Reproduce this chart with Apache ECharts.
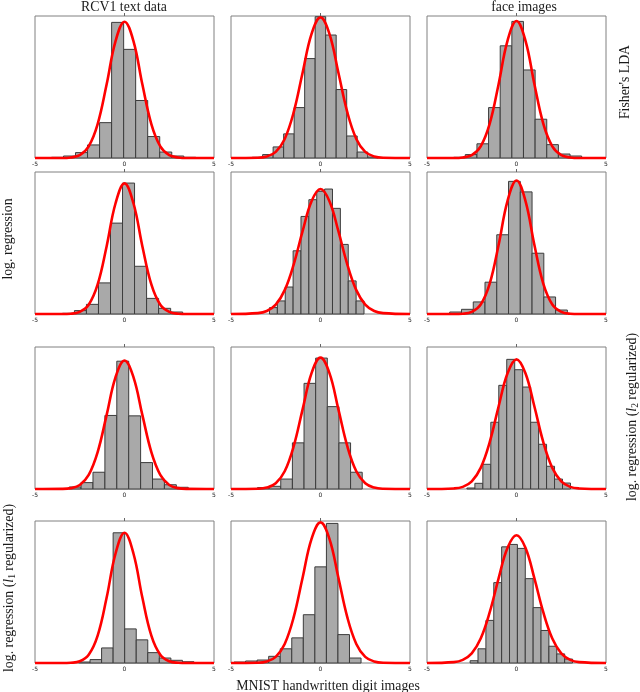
<!DOCTYPE html>
<html>
<head>
<meta charset="utf-8">
<script src="https://cdn.jsdelivr.net/npm/echarts@6/dist/echarts.min.js"></script>
<style>
  html, body { margin: 0; padding: 0; background: #fff; }
  #main { width: 640px; height: 692px; }
</style>
</head>
<body>
<div id="main"></div>
<script>
// x positions where the red curves were read
var curveX = [-5, -3.5, -3, -2.5, -2, -1.5, -1, -0.5, 0, 0.5, 1, 1.5, 2, 2.5, 3, 3.5, 5];

// row 1: Fisher's LDA
var ldaRcvStart = -4.08, ldaRcvWidth = 0.672;
var ldaRcvBars = [0.005, 0.014, 0.038, 0.092, 0.249, 0.955, 0.765, 0.405, 0.151, 0.042, 0.014, 0.005];
var ldaRcvCurve = [0, 0, 0.004, 0.02, 0.082, 0.239, 0.517, 0.823, 0.96, 0.823, 0.517, 0.239, 0.082, 0.02, 0.004, 0, 0];

var ldaMnistStart = -3.82, ldaMnistWidth = 0.587;
var ldaMnistBars = [0.005, 0.024, 0.078, 0.17, 0.355, 0.70, 0.995, 0.866, 0.482, 0.155, 0.042, 0.007];
var ldaMnistCurve = [0, 0.002, 0.011, 0.043, 0.134, 0.321, 0.6, 0.874, 0.99, 0.874, 0.6, 0.321, 0.134, 0.043, 0.011, 0.002, 0];

var ldaFaceStart = -3.51, ldaFaceWidth = 0.65;
var ldaFaceBars = [0.005, 0.024, 0.10, 0.355, 0.79, 0.962, 0.62, 0.273, 0.094, 0.028, 0.014];
var ldaFaceCurve = [0, 0, 0.004, 0.02, 0.082, 0.24, 0.52, 0.827, 0.965, 0.827, 0.52, 0.24, 0.082, 0.02, 0.004, 0, 0];

// row 2: log. regression
var lrRcvStart = -3.47, lrRcvWidth = 0.672;
var lrRcvBars = [0.005, 0.024, 0.068, 0.219, 0.64, 0.922, 0.336, 0.11, 0.04, 0.014];
var lrRcvCurve = [0, 0, 0.002, 0.015, 0.065, 0.208, 0.476, 0.78, 0.92, 0.78, 0.476, 0.208, 0.065, 0.015, 0.002, 0, 0];

var lrMnistStart = -2.85, lrMnistWidth = 0.44;
var lrMnistBars = [0.045, 0.092, 0.19, 0.445, 0.687, 0.805, 0.864, 0.88, 0.744, 0.49, 0.233, 0.092];
var lrMnistCurve = [0, 0.006, 0.021, 0.066, 0.168, 0.348, 0.583, 0.794, 0.88, 0.794, 0.583, 0.348, 0.168, 0.066, 0.021, 0.006, 0];

var lrFaceStart = -3.73, lrFaceWidth = 0.657;
var lrFaceBars = [0.014, 0.033, 0.085, 0.224, 0.558, 0.934, 0.86, 0.428, 0.12, 0.028];
var lrFaceCurve = [0, 0, 0.002, 0.015, 0.067, 0.212, 0.486, 0.797, 0.94, 0.797, 0.486, 0.212, 0.067, 0.015, 0.002, 0, 0];

// row 3: log. regression (l2 regularized)
var l2RcvStart = -3.09, l2RcvWidth = 0.665;
var l2RcvBars = [0.014, 0.045, 0.118, 0.518, 0.9, 0.515, 0.186, 0.07, 0.03, 0.012];
var l2RcvCurve = [0, 0.001, 0.006, 0.028, 0.099, 0.26, 0.52, 0.788, 0.905, 0.788, 0.52, 0.26, 0.099, 0.028, 0.006, 0.001, 0];

var l2MnistStart = -3.52, l2MnistWidth = 0.65;
var l2MnistBars = [0.01, 0.019, 0.07, 0.325, 0.744, 0.922, 0.58, 0.325, 0.118];
var l2MnistCurve = [0, 0.002, 0.01, 0.041, 0.125, 0.3, 0.561, 0.816, 0.925, 0.816, 0.561, 0.3, 0.125, 0.041, 0.01, 0.002, 0];

var l2FaceStart = -2.77, l2FaceWidth = 0.445;
var l2FaceBars = [0.007, 0.04, 0.174, 0.47, 0.73, 0.913, 0.84, 0.718, 0.47, 0.315, 0.16, 0.07, 0.042];
var l2FaceCurve = [0, 0.004, 0.015, 0.054, 0.149, 0.329, 0.581, 0.815, 0.913, 0.815, 0.581, 0.329, 0.149, 0.054, 0.015, 0.004, 0];

// row 4: log. regression (l1 regularized)
var l1RcvStart = -2.57, l1RcvWidth = 0.645;
var l1RcvBars = [0.007, 0.024, 0.106, 0.917, 0.24, 0.163, 0.073, 0.035, 0.019, 0.009];
var l1RcvCurve = [0, 0, 0.002, 0.012, 0.058, 0.193, 0.459, 0.771, 0.917, 0.771, 0.459, 0.193, 0.058, 0.012, 0.002, 0, 0];

var l1MnistStart = -4.83, l1MnistWidth = 0.645;
var l1MnistBars = [0.007, 0.014, 0.021, 0.047, 0.1, 0.177, 0.34, 0.677, 0.983, 0.2, 0.035];
var l1MnistCurve = [0, 0.002, 0.011, 0.043, 0.134, 0.321, 0.6, 0.874, 0.99, 0.874, 0.6, 0.321, 0.134, 0.043, 0.011, 0.002, 0];

var l1FaceStart = -2.59, l1FaceWidth = 0.44;
var l1FaceBars = [0.016, 0.1, 0.3, 0.566, 0.818, 0.835, 0.807, 0.594, 0.39, 0.229, 0.118, 0.064, 0.028];
var l1FaceCurve = [0, 0.006, 0.022, 0.068, 0.172, 0.356, 0.596, 0.812, 0.9, 0.812, 0.596, 0.356, 0.172, 0.068, 0.022, 0.006, 0];

var panels = [
    [ldaRcvStart, ldaRcvWidth, ldaRcvBars, ldaRcvCurve],
    [ldaMnistStart, ldaMnistWidth, ldaMnistBars, ldaMnistCurve],
    [ldaFaceStart, ldaFaceWidth, ldaFaceBars, ldaFaceCurve],
    [lrRcvStart, lrRcvWidth, lrRcvBars, lrRcvCurve],
    [lrMnistStart, lrMnistWidth, lrMnistBars, lrMnistCurve],
    [lrFaceStart, lrFaceWidth, lrFaceBars, lrFaceCurve],
    [l2RcvStart, l2RcvWidth, l2RcvBars, l2RcvCurve],
    [l2MnistStart, l2MnistWidth, l2MnistBars, l2MnistCurve],
    [l2FaceStart, l2FaceWidth, l2FaceBars, l2FaceCurve],
    [l1RcvStart, l1RcvWidth, l1RcvBars, l1RcvCurve],
    [l1MnistStart, l1MnistWidth, l1MnistBars, l1MnistCurve],
    [l1FaceStart, l1FaceWidth, l1FaceBars, l1FaceCurve]
];

var colLeft = [35, 231, 427];
var rowTop = [16, 172, 347, 521];
var font = '"Liberation Serif", serif';

var myChart = echarts.init(document.getElementById('main'));
var grids = [], xAxes = [], yAxes = [], series = [];

function drawBin(params, api) {
    var p0 = api.coord([api.value(0), api.value(2)]);
    var p1 = api.coord([api.value(1), 0]);
    return {
        type: 'rect',
        shape: { x: p0[0], y: p0[1], width: p1[0] - p0[0], height: p1[1] - p0[1] },
        style: { fill: '#a9a9a9', stroke: '#3c3c3c', lineWidth: 1 }
    };
}

panels.forEach(function (p, i) {
    var row = Math.floor(i / 3), col = i % 3;
    grids.push({
        left: colLeft[col], top: rowTop[row], width: 179, height: 142,
        show: true, borderColor: '#808080', borderWidth: 1
    });
    xAxes.push({
        gridIndex: i, type: 'value', min: -5, max: 5, interval: 5,
        axisLine: { show: false }, axisTick: { show: false }, splitLine: { show: false },
        axisLabel: { fontSize: 6, color: '#222', margin: 3, fontFamily: 'DejaVu Sans' }
    });
    xAxes.push({
        gridIndex: i, type: 'value', position: 'top', min: -5, max: 5, interval: 5,
        axisLine: { show: false }, splitLine: { show: false }, axisLabel: { show: false },
        axisTick: { show: true, length: 3, customValues: [0], lineStyle: { color: '#666' } }
    });
    yAxes.push({ gridIndex: i, type: 'value', min: 0, max: 1, show: false });

    var bins = [];
    p[2].forEach(function (h, k) {
        bins.push([p[0] + k * p[1], p[0] + (k + 1) * p[1], h]);
    });
    series.push({
        type: 'custom', xAxisIndex: 2 * i, yAxisIndex: i,
        renderItem: drawBin, encode: { x: [0, 1], y: 2 }, data: bins, silent: true
    });
    var line = [];
    curveX.forEach(function (x, k) { line.push([x, p[3][k]]); });
    series.push({
        type: 'line', xAxisIndex: 2 * i, yAxisIndex: i, data: line,
        smooth: 0.4, symbol: 'none', clip: false, z: 5,
        lineStyle: { color: '#ff0000', width: 2.6 }
    });
});

function label(text, x, y, rot) {
    return {
        type: 'text', x: x, y: y, rotation: rot || 0,
        style: {
            text: text, fill: '#1a1a1a', font: '13.8px ' + font,
            align: 'center', verticalAlign: 'middle',
            rich: {
                it: { fontFamily: font, fontSize: 13.8, fontStyle: 'italic', fill: '#1a1a1a' },
                sub: { fontFamily: font, fontSize: 9.5, fill: '#1a1a1a', verticalAlign: 'bottom', padding: [6, 0, 0, 0] }
            }
        }
    };
}

var option = {
    animation: false,
    grid: grids,
    xAxis: xAxes,
    yAxis: yAxes,
    series: series,
    graphic: [
        label('RCV1 text data', 124, 7),
        label('face images', 524, 7),
        label('MNIST handwritten digit images', 328, 686),
        label("Fisher's LDA", 625, 82, Math.PI / 2),
        label('log. regression', 8, 239, Math.PI / 2),
        label('log. regression ({it|l}{sub|2} regularized)', 632, 417, Math.PI / 2),
        label('log. regression ({it|l}{sub|1} regularized)', 9, 588, Math.PI / 2)
    ]
};

myChart.setOption(option);
</script>
</body>
</html>
